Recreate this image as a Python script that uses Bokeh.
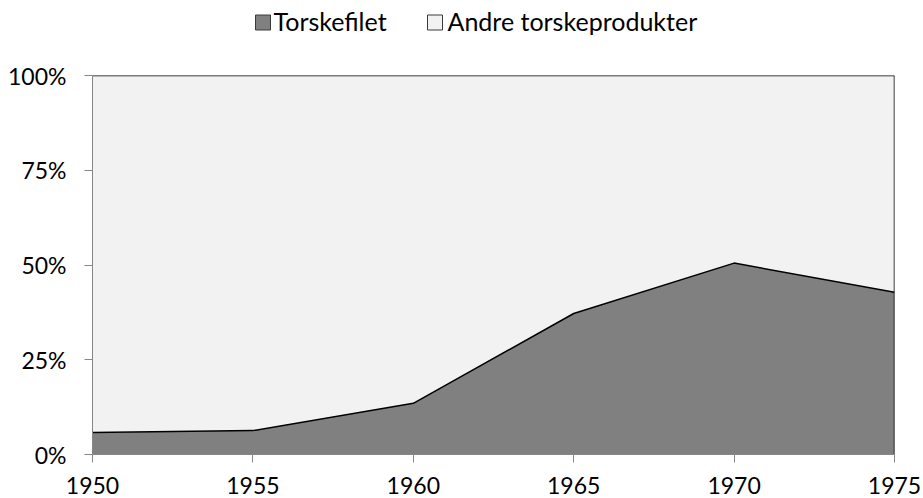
from bokeh.plotting import figure
from bokeh.layouts import column
from bokeh.models import ColumnDataSource, NumeralTickFormatter, FixedTicker, Range1d
from bokeh.core.properties import value
from bokeh.embed import file_html
from bokeh.resources import INLINE

years = [1950, 1955, 1960, 1965, 1970, 1975]
torskefilet = [0.058, 0.063, 0.135, 0.372, 0.505, 0.428]
andre = [0.942, 0.937, 0.865, 0.628, 0.495, 0.572]
series_names = ["Torskefilet", "Andre torskeprodukter"]
y_ticks = [0, 0.25, 0.5, 0.75, 1.0]

FONT = "Lato"
C_FILET = "#808080"
C_ANDRE = "#F2F2F2"
AXIS_C = "#868686"
W = 923
LEG_H = 60
MAIN_H = 438
B_LEFT, B_RIGHT = 92, 29

# ---- legend strip (pixel-like coordinates, frame aligned with the chart frame) ----
leg = figure(width=W, height=LEG_H, x_range=Range1d(B_LEFT, W - B_RIGHT), y_range=Range1d(0, LEG_H),
             output_backend="svg", toolbar_location=None,
             x_axis_type=None, y_axis_type=None,
             min_border_left=B_LEFT, min_border_right=B_RIGHT, min_border_top=0, min_border_bottom=0)
leg.outline_line_color = None
leg.xgrid.visible = False
leg.ygrid.visible = False
swatch_x = [262.5, 434.5]
text_x = [273, 447]
leg.rect(x=swatch_x, y=[LEG_H - 22] * 2, width=15, height=15, width_units="screen", height_units="screen",
         fill_color=[C_FILET, C_ANDRE], line_color="#3a3a3a", line_width=1)
leg.text(x=text_x, y=[LEG_H - 20] * 2, text=series_names, text_font=value(FONT), text_font_size="25px",
         text_baseline="middle", text_align="left", text_color="black")

# ---- main chart ----
src = ColumnDataSource(dict(year=years, filet=torskefilet, andre=andre,
                            total=[a + b for a, b in zip(torskefilet, andre)]))

p = figure(width=W, height=MAIN_H, x_range=Range1d(1950, 1975), y_range=Range1d(0, 1),
           output_backend="svg", toolbar_location=None,
           min_border_left=B_LEFT, min_border_right=B_RIGHT, min_border_top=15, min_border_bottom=44)
p.outline_line_color = None
p.xgrid.visible = False
p.ygrid.visible = False

p.varea_stack(["filet", "andre"], x="year", source=src, color=[C_FILET, C_ANDRE])
p.line(x="year", y="filet", source=src, line_color="black", line_width=1.5)
p.line(x="year", y="total", source=src, line_color="black", line_width=1.5)
p.segment(x0=[years[-1]], y0=[0], x1=[years[-1]], y1=[1], line_color="black", line_width=1.5)

for ax in (p.xaxis, p.yaxis):
    ax.axis_line_color = AXIS_C
    ax.major_tick_line_color = AXIS_C
    ax.minor_tick_line_color = None
    ax.major_tick_out = 8
    ax.major_tick_in = 0
    ax.major_label_text_font = FONT
    ax.major_label_text_font_size = "23px"
    ax.major_label_text_color = "black"

p.xaxis.ticker = FixedTicker(ticks=years)
p.yaxis.ticker = FixedTicker(ticks=y_ticks)
p.yaxis.formatter = NumeralTickFormatter(format="0%")
p.xaxis.major_label_standoff = 14
p.xaxis.major_label_text_line_height = 0.7
p.yaxis.major_label_standoff = 18

layout = column(leg, p, spacing=0)
open("out.html", "w").write(file_html(layout, INLINE))
